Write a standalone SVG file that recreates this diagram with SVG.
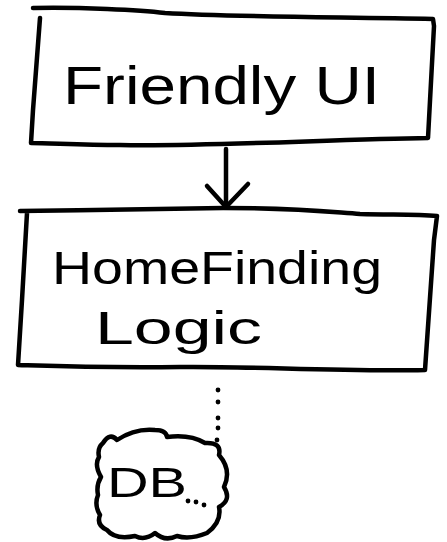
<svg xmlns="http://www.w3.org/2000/svg" width="447" height="542" viewBox="0 0 447 542">
  <style>
    .ink { fill: none; stroke: #000; stroke-width: 4.5; stroke-linecap: round; stroke-linejoin: round; }
    .hand { font-family: "Liberation Sans", "Open Sans", sans-serif; fill: #000; }
    .dot { fill: #000; }
  </style>
  <rect width="447" height="542" fill="#fff"/>

  <!-- connectors -->
  <g id="connectors">
    <path class="ink" d="M226,149 L226,207"/>
    <path class="ink" d="M207,186 L226,207 L248,184"/>
    <g id="dotted-link">
      <circle class="dot" cx="218" cy="390" r="2.4"/>
      <circle class="dot" cx="218" cy="402" r="2.4"/>
      <circle class="dot" cx="218" cy="418" r="2.4"/>
      <circle class="dot" cx="218" cy="428" r="2.4"/>
      <circle class="dot" cx="217" cy="440" r="2.4"/>
    </g>
  </g>

  <!-- node: Friendly UI -->
  <g id="node-friendly-ui">
    <path class="ink" d="M33,8 C80,7 140,10 165,13 C230,17 330,17 433,19 L434,26 L428,138 C340,139 200,147 120,145 C80,145 50,143 31,143 L33,110 L40,18"/>
    <text class="hand" x="63" y="104" font-size="54" textLength="317" lengthAdjust="spacingAndGlyphs">Friendly UI</text>
  </g>

  <!-- node: Home Finding Logic -->
  <g id="node-home-finding">
    <path class="ink" d="M20,211 C90,210 170,209 223,208 C300,208 330,212 360,214 C390,215 415,214 437,216 L434,240 L425,370 C340,372 250,366 180,367 C100,368 50,366 18,365 L22,300 L27,213"/>
    <text class="hand" x="52" y="284" font-size="46" textLength="330" lengthAdjust="spacingAndGlyphs">HomeFinding</text>
    <text class="hand" x="95" y="344" font-size="46" textLength="167" lengthAdjust="spacingAndGlyphs">Logic</text>
  </g>

  <!-- node: DB cloud -->
  <g id="node-db">
    <path class="ink" d="M103,443 Q110,432 117,440 Q135,428 155,430 Q166,430 167,437 Q190,434 205,443 Q222,442 219,455 Q232,470 224,487 Q232,500 219,507 Q222,522 207,533 Q190,540 177,536 Q165,542 155,533 Q145,541 135,536 Q115,540 107,530 Q96,525 100,515 Q94,505 98,495 Q96,485 101,477 Q94,465 99,457 Q97,448 103,443 Z"/>
    <text class="hand" x="107" y="497" font-size="42" textLength="80" lengthAdjust="spacingAndGlyphs">DB</text>
    <circle class="dot" cx="188" cy="501" r="2.4"/>
    <circle class="dot" cx="196" cy="502" r="2.4"/>
    <circle class="dot" cx="204" cy="505" r="2.4"/>
  </g>
</svg>
